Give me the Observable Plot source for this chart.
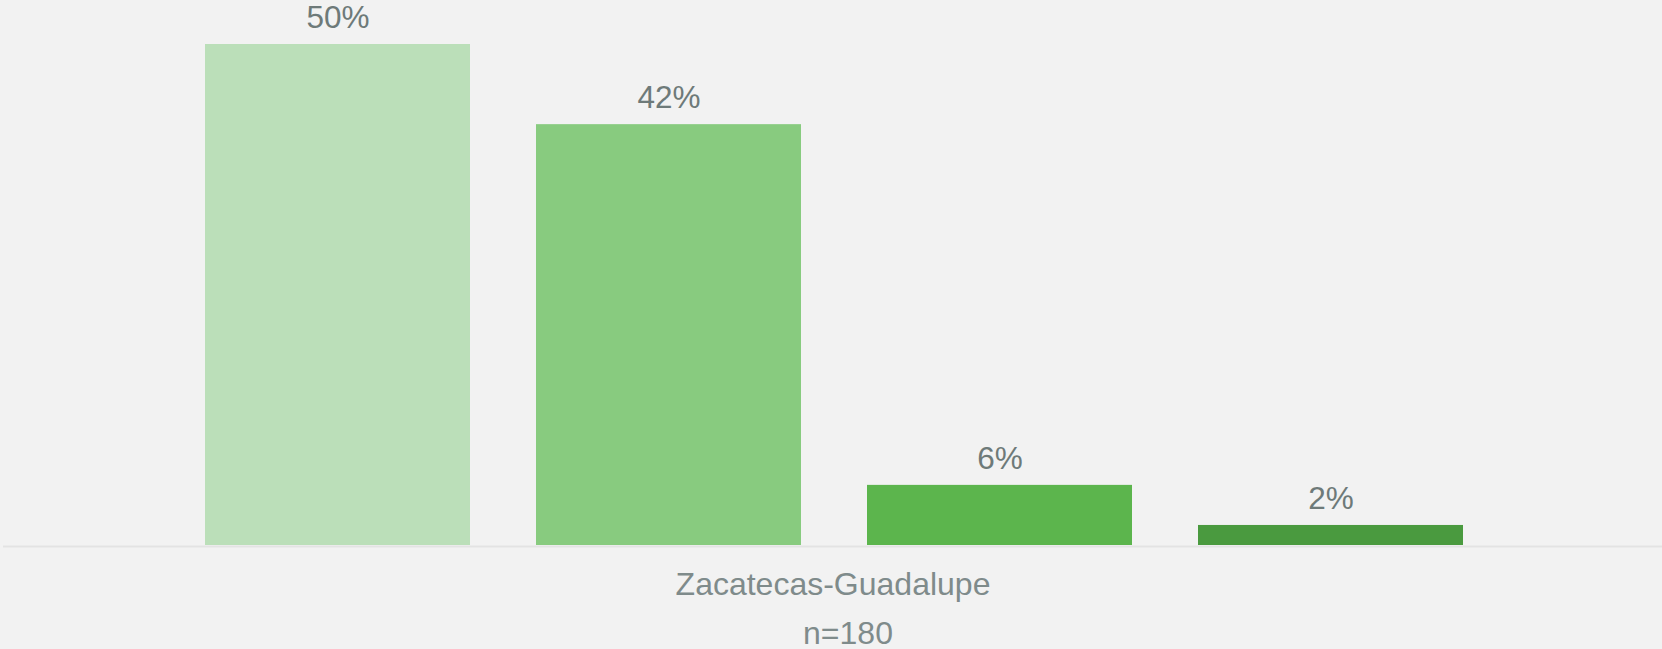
<!DOCTYPE html>
<html>
<head>
<meta charset="utf-8">
<script src="https://cdn.jsdelivr.net/npm/d3@7"></script>
<script src="https://cdn.jsdelivr.net/npm/@observablehq/plot@0.6"></script>
<style>
  html, body { margin: 0; padding: 0; background: #f2f2f2; }
  #chart svg { display: block; }
</style>
</head>
<body>
<div id="chart"></div>
<script>
// Data
const group = "Zacatecas-Guadalupe";
const sampleLabel = "n=180";
const series = ["Serie 1", "Serie 2", "Serie 3", "Serie 4"];
const values = [50, 42, 6, 2];
const colors = ["#bbdfb9", "#88cb7f", "#5cb54d", "#4a9a3f"];

const data = series.map((s, i) => ({series: s, value: values[i]}));

const chart = Plot.plot({
  width: 1662,
  height: 649,
  marginTop: 44,
  marginBottom: 104,
  marginLeft: 3,
  marginRight: 0,
  style: {background: "#f2f2f2", fontFamily: "'Liberation Sans', Arial, sans-serif"},
  x: {type: "band", domain: series, range: [170, 1497], paddingInner: 0.2, paddingOuter: 0.1, axis: null},
  y: {domain: [0, 50], axis: null},
  color: {domain: series, range: colors},
  marks: [
    Plot.barY(data, {x: "series", y: "value", fill: "series"}),
    Plot.ruleY([0], {stroke: "#e3e3e3", strokeWidth: 2, dy: 1}),
    Plot.text(data, {x: "series", y: "value", text: d => d.value + "%", lineAnchor: "bottom", dy: -16.5, fontSize: 31.5, fill: "#6e7a79"}),
    Plot.text([group], {frameAnchor: "bottom", text: d => d, lineAnchor: "bottom", dy: 49, fontSize: 32, fill: "#7f8b8b"}),
    Plot.text([sampleLabel], {frameAnchor: "bottom", text: d => d, lineAnchor: "bottom", dy: 98, dx: 15, fontSize: 32, fill: "#7f8b8b"})
  ]
});
document.getElementById("chart").appendChild(chart);
</script>
</body>
</html>
